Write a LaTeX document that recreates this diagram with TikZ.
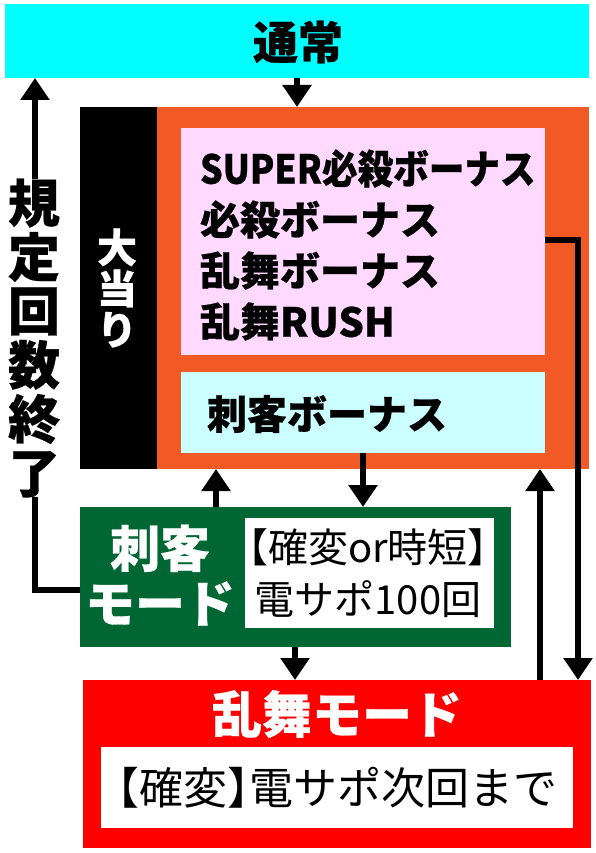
\documentclass[tikz,border=0pt]{standalone}
\usepackage{fontspec}
\setmainfont{Noto Sans CJK JP}[BoldFeatures={FakeBold=0.6}]
\newfontfamily\jph{Noto Sans CJK JP}[RawFeature=+halt]
\usepackage{graphicx}
\usetikzlibrary{arrows.meta}
\definecolor{cyanA}{RGB}{0,255,255}
\definecolor{orangeA}{RGB}{241,90,36}
\definecolor{pinkA}{RGB}{255,217,255}
\definecolor{cyanB}{RGB}{204,255,255}
\definecolor{greenA}{RGB}{0,102,51}
\definecolor{redA}{RGB}{255,0,0}
\newcommand\fsz[2]{\fontsize{#1}{#2}\selectfont}
\newcommand\lbr{{\jph 【}}
\newcommand\rbr{{\jph 】}}
\tikzset{
  blk/.style={rectangle, inner sep=0pt, outer sep=0pt, anchor=north west},
  arr/.style={line width=6pt, -{Triangle[width=28pt,length=22pt]}},
  ln/.style={line width=6pt},
  txt/.style={inner sep=0pt, outer sep=0pt, align=center},
}
\begin{document}
\begin{tikzpicture}[x=1pt,y=-1pt]
\useasboundingbox (0,0) rectangle (596,853);
% blocks
\node[blk, fill=cyanA, minimum width=584pt, minimum height=74pt] (top) at (5,4) {};
\node[blk, fill=black, minimum width=77pt, minimum height=362pt] (hit) at (80,107) {};
\node[blk, fill=orangeA, minimum width=432pt, minimum height=362pt] (orange) at (157,107) {};
\node[blk, fill=pinkA, minimum width=364pt, minimum height=227pt] (pink) at (181,128) {};
\node[blk, fill=cyanB, minimum width=364pt, minimum height=81pt] (cb) at (181,372) {};
\node[blk, fill=greenA, minimum width=431pt, minimum height=140pt] (green) at (80,507) {};
\node[blk, fill=white, minimum width=249pt, minimum height=110pt] (gw) at (245,518) {};
\node[blk, fill=redA, minimum width=508pt, minimum height=168pt] (red) at (83,680) {};
\node[blk, fill=white, minimum width=472pt, minimum height=81pt] (rw) at (101,747) {};
% texts
\node[txt, font=\bfseries\fsz{45}{50}] (ttop) at (298,42) {通常};
\node[txt, anchor=west, align=left, font=\bfseries\fsz{40}{51}] (tpink) at (200,245)
  {\scalebox{0.89}[1]{SUPER必殺ボーナス}\\必殺ボーナス\\乱舞ボーナス\\乱舞RUSH};
\node[txt, anchor=west, font=\bfseries\fsz{40}{50}] (tcb) at (207,414) {刺客ボーナス};
\node[txt, text=white, font=\bfseries\fsz{40}{41}] (thit) at (117,288) {大\\当\\り};
\node[txt, font=\bfseries\fsz{52}{54}] (kitei) at (34,338) {規\\定\\回\\数\\終\\了};
\node[txt, text=white, font=\bfseries\fsz{50}{55}] (tgreen) at (160,575) {刺客\\モード};
\node[txt, font=\fsz{40}{52}] (tgw) at (368,573)
  {\lbr 確変or時短\rbr\\電サポ100回};
\node[txt, text=white, font=\bfseries\fsz{50}{55}] (tred) at (337,714) {乱舞モード};
\node[txt, font=\fsz{44}{50}] (trw) at (337,788) {\lbr 確変\rbr 電サポ次回まで};
% connector coordinates
\coordinate (xa) at (363,0);
\coordinate (xb) at (216,0);
\coordinate (xc) at (295,0);
\coordinate (xd) at (540,0);
\coordinate (xe) at (578,0);
\coordinate (ya) at (0,240);
\coordinate (yb) at (0,590);
\coordinate (xl) at (35,0);
% connectors
\draw[arr] (top.south) -- (top.south |- orange.north);
\draw[arr] (cb.south -| xa) -- (green.north -| xa);
\draw[arr] (green.north -| xb) -- (orange.south -| xb);
\draw[arr] (green.south -| xc) -- (red.north -| xc);
\draw[arr] (red.north -| xd) -- (orange.south -| xd);
\draw[arr] (pink.east |- ya) -- (xe |- ya) -- (red.north -| xe);
\draw[ln] (green.west |- yb) -- (xl |- yb) -- (xl |- kitei.south);
\draw[arr] (xl |- kitei.north) -- (top.south -| xl);
\end{tikzpicture}
\end{document}
